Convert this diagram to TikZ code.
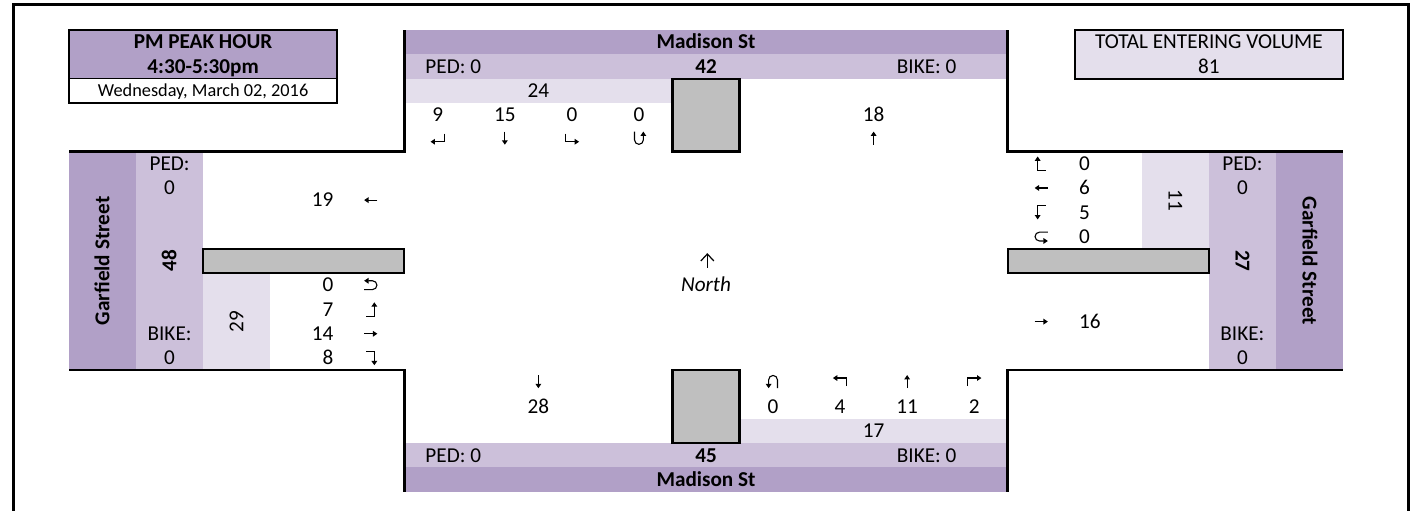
\documentclass[tikz,border=0pt]{standalone}
\usepackage{fontspec}
\setmainfont{Carlito}
\usetikzlibrary{arrows.meta}

\definecolor{streetdark}{HTML}{B1A0C7}
\definecolor{streetmid}{HTML}{CCC0DA}
\definecolor{streetlight}{HTML}{E4DFEC}
\definecolor{islandgrey}{HTML}{BFBFBF}

\tikzset{
  lbl/.style={inner sep=0pt, text height=6.8pt, text depth=0pt, font=\fontsize{10.6}{12}\selectfont},
  lblb/.style={lbl, font=\fontsize{10.6}{12}\selectfont\bfseries},
  lbls/.style={inner sep=0pt, text height=5.9pt, text depth=0pt, font=\fontsize{9.15}{11}\selectfont},
  kerb/.style={line width=1.25pt},
  boxline/.style={line width=1pt},
  island/.style={fill=islandgrey, draw=black, line width=1.1pt},
  mvline/.style={line width=0.55pt, -{Triangle[length=2.2pt, width=2.8pt]}},
  northarrow/.style={line width=0.6pt, -{Straight Barb[length=3.5pt, width=6.5pt]}},
  pics/thru/.style={code={\draw[mvline] (0pt, 3.3pt) -- (0pt, -3.3pt);}},
  pics/rtturn/.style={code={\draw[mvline] (3.4pt, 2.2pt) -- (3.4pt, -1.8pt) -- (-3.6pt, -1.8pt);}},
  pics/ltturn/.style={code={\draw[mvline] (-3.4pt, 2.2pt) -- (-3.4pt, -1.8pt) -- (3.6pt, -1.8pt);}},
  pics/uturn/.style={code={\draw[mvline] (-2.2pt, 3.3pt) -- (-2.2pt, -0.9pt)
      arc[start angle=180, end angle=360, radius=2.2pt] -- (2.2pt, 3.3pt);}},
}

\begin{document}
\begin{tikzpicture}[x=33.525pt, y=-12.15pt]
        \useasboundingbox (-1.0291, -1.2346) rectangle (20.104, 19.753);
        % sheet frame
        \draw [line width=1.5pt] (-0.835, 20.5) -- (-0.835, -1.03) -- (19.97, -1.03) -- (19.97, 20.5);
        % approach bands
        \fill [streetdark] (5, 0) rectangle (14, 1);
        \fill [streetmid] (5, 1) rectangle (14, 2);
        \fill [streetlight] (5, 2) rectangle (9, 3);
        \fill [streetlight] (10, 16) rectangle (14, 17);
        \fill [streetmid] (5, 17) rectangle (14, 18);
        \fill [streetdark] (5, 18) rectangle (14, 19);
        \fill [streetdark] (0, 5) rectangle (1, 14);
        \fill [streetmid] (1, 5) rectangle (2, 14);
        \fill [streetlight] (2, 10) rectangle (3, 14);
        \fill [streetlight] (16, 5) rectangle (17, 9);
        \fill [streetmid] (17, 5) rectangle (18, 14);
        \fill [streetdark] (18, 5) rectangle (19, 14);
        % medians
        \draw [island] (9, 2) rectangle (10, 5);
        \draw [island] (9, 14) rectangle (10, 17);
        \draw [island] (2, 9) rectangle (5, 10);
        \draw [island] (14, 9) rectangle (17, 10);
        % kerb corners
        \draw [kerb] (5, 0) -- (5, 5) -- (0, 5);
        \draw [kerb] (14, 0) -- (14, 5) -- (19, 5);
        \draw [kerb] (0, 14) -- (5, 14) -- (5, 19);
        \draw [kerb] (19, 14) -- (14, 14) -- (14, 19);
        % peak hour box
        \fill [streetdark] (0, 0) rectangle (4, 2);
        \draw [boxline] (0, 0) rectangle (4, 3);
        \draw [line width=0.6pt] (0, 2) -- (4, 2);
        \draw (2, 0.5) node[lblb] (peak) {PM PEAK HOUR};
        \draw (2, 1.5) node[lblb] (peaktime) {4:30-5:30pm};
        \draw (2, 2.5) node[lbls] (peakdate) {Wednesday, March 02, 2016};
        % total box
        \draw [boxline, fill=streetlight] (15, 0) rectangle (19, 2);
        \draw (17, 0.5) node[lbl] (total) {TOTAL ENTERING VOLUME};
        \draw (17, 1.5) node[lbl] (totalval) {81};
        % north leg
        \draw (9.5, 0.5) node[lblb] (streetN) {Madison St};
        \draw (5.31, 1.5) node[lbl, anchor=west] (pedN) {PED: 0};
        \draw (9.5, 1.5) node[lblb] (sumN) {42};
        \draw (13.24, 1.5) node[lbl, anchor=east] (bikeN) {BIKE: 0};
        \draw (7, 2.5) node[lbl] (sbIn) {24};
        \draw (5.5, 3.5) node[lbl] (sbR) {9};
        \draw (6.5, 3.5) node[lbl] (sbT) {15};
        \draw (7.5, 3.5) node[lbl] (sbL) {0};
        \draw (8.5, 3.5) node[lbl] (sbU) {0};
        \draw (12, 3.5) node[lbl] (nbOut) {18};
        \path (5.5, 4.45) pic {rtturn};
        \path (6.5, 4.45) pic {thru};
        \path (7.5, 4.45) pic {ltturn};
        \path (8.5, 4.45) pic {uturn};
        \path (12, 4.45) pic[rotate=180] {thru};
        % south leg
        \path (7, 14.47) pic {thru};
        \path (10.5, 14.47) pic[rotate=180] {uturn};
        \path (11.5, 14.47) pic[rotate=180] {ltturn};
        \path (12.5, 14.47) pic[rotate=180] {thru};
        \path (13.5, 14.47) pic[rotate=180] {rtturn};
        \draw (7, 15.5) node[lbl] (sbOut) {28};
        \draw (10.5, 15.5) node[lbl] (nbU) {0};
        \draw (11.5, 15.5) node[lbl] (nbL) {4};
        \draw (12.5, 15.5) node[lbl] (nbT) {11};
        \draw (13.5, 15.5) node[lbl] (nbR) {2};
        \draw (12, 16.5) node[lbl] (nbIn) {17};
        \draw (5.31, 17.5) node[lbl, anchor=west] (pedS) {PED: 0};
        \draw (9.5, 17.5) node[lblb] (sumS) {45};
        \draw (13.24, 17.5) node[lbl, anchor=east] (bikeS) {BIKE: 0};
        \draw (9.5, 18.5) node[lblb] (streetS) {Madison St};
        % west leg
        \draw (0.5, 9.5) node[lblb, rotate=90] (streetW) {Garfield Street};
        \draw (1.5, 5.5) node[lbl] (pedW) {PED:};
        \draw (1.5, 6.5) node[lbl] (pedWval) {0};
        \draw (1.5, 9.5) node[lblb, rotate=90] (sumW) {48};
        \draw (1.5, 12.5) node[lbl] (bikeW) {BIKE:};
        \draw (1.5, 13.5) node[lbl] (bikeWval) {0};
        \draw (2.5, 12) node[lbl, rotate=90] (ebIn) {29};
        \draw (3.95, 7) node[lbl, anchor=east] (wbOut) {19};
        \draw (3.95, 10.5) node[lbl, anchor=east] (ebU) {0};
        \draw (3.95, 11.5) node[lbl, anchor=east] (ebL) {7};
        \draw (3.95, 12.5) node[lbl, anchor=east] (ebT) {14};
        \draw (3.95, 13.5) node[lbl, anchor=east] (ebR) {8};
        \path (4.5, 7) pic[rotate=-90] {thru};
        \path (4.5, 10.5) pic[rotate=90] {uturn};
        \path (4.5, 11.5) pic[rotate=90] {ltturn};
        \path (4.5, 12.5) pic[rotate=90] {thru};
        \path (4.5, 13.5) pic[rotate=90] {rtturn};
        % east leg
        \path (14.5, 5.5) pic[rotate=-90] {rtturn};
        \path (14.5, 6.5) pic[rotate=-90] {thru};
        \path (14.5, 7.5) pic[rotate=-90] {ltturn};
        \path (14.5, 8.5) pic[rotate=-90] {uturn};
        \path (14.5, 12) pic[rotate=90] {thru};
        \draw (15.06, 5.5) node[lbl, anchor=west] (wbR) {0};
        \draw (15.06, 6.5) node[lbl, anchor=west] (wbT) {6};
        \draw (15.06, 7.5) node[lbl, anchor=west] (wbL) {5};
        \draw (15.06, 8.5) node[lbl, anchor=west] (wbU) {0};
        \draw (15.06, 12) node[lbl, anchor=west] (ebOut) {16};
        \draw (16.5, 7) node[lbl, rotate=-90] (wbIn) {11};
        \draw (17.5, 5.5) node[lbl] (pedE) {PED:};
        \draw (17.5, 6.5) node[lbl] (pedEval) {0};
        \draw (17.5, 9.5) node[lblb, rotate=-90] (sumE) {27};
        \draw (17.5, 12.5) node[lbl] (bikeE) {BIKE:};
        \draw (17.5, 13.5) node[lbl] (bikeEval) {0};
        \draw (18.5, 9.5) node[lblb, rotate=-90] (streetE) {Garfield Street};
        % north marker
        \draw (9.5, 10.5) node[lbl, font=\fontsize{10.6}{12}\selectfont\itshape] (north) {North};
        \draw [northarrow] (9.52, 9.79) -- (9.52, 9.18);
\end{tikzpicture}
\end{document}
